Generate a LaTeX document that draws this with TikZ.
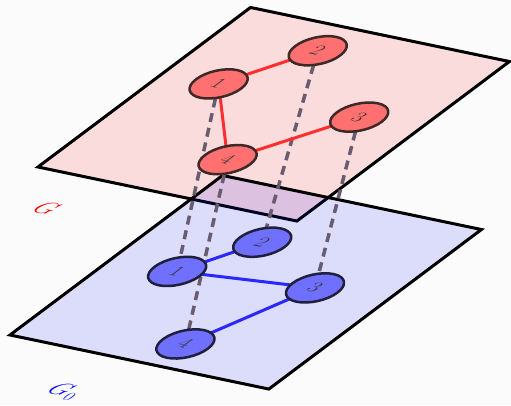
\documentclass[tikz,border=0pt]{standalone}

\definecolor{tfill}{RGB}{255,112,112}
\definecolor{tline}{RGB}{62,40,40}
\definecolor{tedgec}{RGB}{255,45,45}
\definecolor{bfill}{RGB}{112,112,255}
\definecolor{bline}{RGB}{32,32,62}
\definecolor{bedgec}{RGB}{40,40,255}
\definecolor{linkc}{RGB}{105,92,110}

\pgfdeclarelayer{background}
\pgfsetlayers{background,main}

\tikzset{
  topplane/.style={cm={0.977,-0.204,0.802,0.602,(38,238)}},
  botplane/.style={cm={0.977,-0.204,0.802,0.602,(10,70)}},
  sheet/.style={line width=3pt, draw=black, fill opacity=0.12},
  vtx/.style={circle, minimum size=46pt, inner sep=0pt, line width=2.5pt,
    transform shape, font=\fontsize{20}{24}\selectfont, text=black!80},
  tvtx/.style={vtx, draw=tline, fill=tfill},
  bvtx/.style={vtx, draw=bline, fill=bfill},
  glabel/.style={transform shape, font=\fontsize{24}{28}\selectfont},
  tedge/.style={line width=3pt, tedgec},
  bedge/.style={line width=3pt, bedgec},
  link/.style={line width=3.5pt, linkc, dash pattern=on 9pt off 6pt}
}

\begin{document}
\begin{tikzpicture}[x=1pt, y=1pt]
  \useasboundingbox (0,0) rectangle (511,405);

  % upper graph
  \begin{scope}[topplane]
    \node[tvtx] (t1) at (56,157) {$1$};
    \node[tvtx] (t2) at (100,227) {$2$};
    \node[tvtx] (t3) at (204,152) {$3$};
    \node[tvtx] (t4) at (144,61) {$4$};
    \node[glabel, text=red] (g) at (51,-51) {$G$};
  \end{scope}

  % lower graph
  \begin{scope}[botplane]
    \node[bvtx] (b1) at (66,128) {$1$};
    \node[bvtx] (b2) at (103,189) {$2$};
    \node[bvtx] (b3) at (194,144) {$3$};
    \node[bvtx] (b4) at (150,36) {$4$};
    \node[glabel, text=blue] (g0) at (104,-59) {$G_0$};
  \end{scope}

  \begin{pgfonlayer}{background}
    \fill[gray!3] (0,0) rectangle (511,405);
    \draw[sheet, fill=red, topplane] (0,0) -- (265,0) -- (265,265) -- (0,265) -- cycle;
    \draw[sheet, fill=blue, botplane] (0,0) -- (265,0) -- (265,265) -- (0,265) -- cycle;
    \foreach \i in {1,...,4}
      \draw[link] (t\i.center) -- (b\i.center);
    \draw[tedge] (t1.center) -- (t2.center) (t1.center) -- (t4.center)
      (t4.center) -- (t3.center);
    \draw[bedge] (b1.center) -- (b2.center) (b1.center) -- (b3.center)
      (b3.center) -- (b4.center);
  \end{pgfonlayer}
\end{tikzpicture}
\end{document}
